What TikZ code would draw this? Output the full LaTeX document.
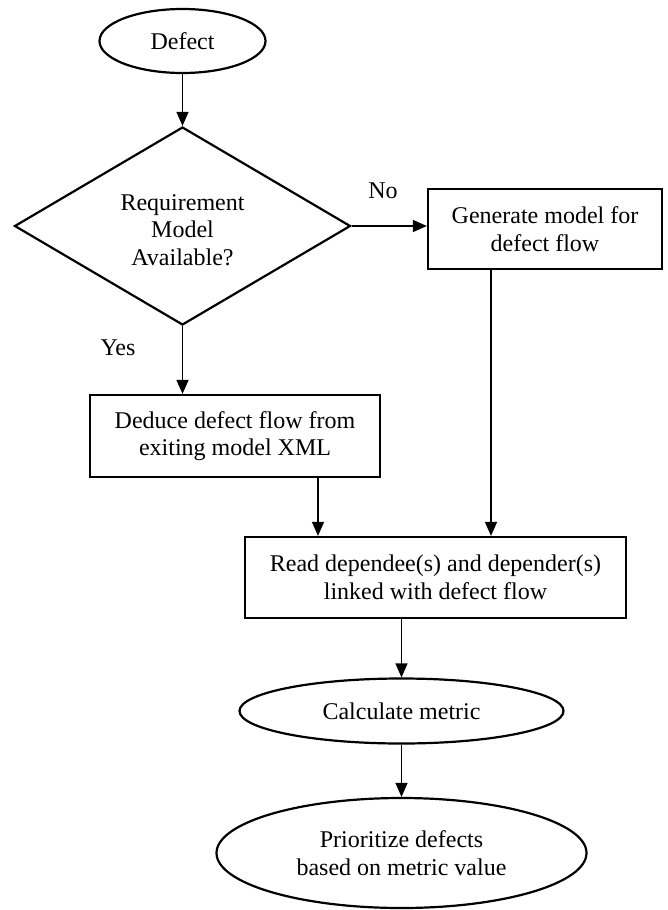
\documentclass[tikz,border=0pt]{standalone}
\usepackage{fontspec}
\setmainfont{Liberation Serif}
\usetikzlibrary{shapes.geometric,arrows.meta}
\tikzset{
  txt/.style={font=\fontsize{24}{27.5}\selectfont, align=center, inner sep=0pt},
  boxnode/.style={txt, draw, line width=2.2pt, rectangle},
  ovalnode/.style={txt, draw, line width=2.2pt, ellipse},
  decnode/.style={txt, draw, line width=2.2pt, diamond},
  arr/.style={line width=1.3pt, -{Triangle[length=14pt,width=12pt]}},
  lbl/.style={font=\fontsize{24}{27.5}\selectfont, inner sep=0pt}
}
\begin{document}
\begin{tikzpicture}[x=1pt,y=-1pt]
\useasboundingbox (0,0) rectangle (668,910);
\node[ovalnode, minimum width=166pt, minimum height=64pt] (defect) at (182.5,41) {Defect};
\node[decnode, minimum width=336pt, minimum height=198pt,
  label={[txt, yshift=-4pt]center:{Requirement\\Model\\Available?}}] (dec) at (182.5,226) {};
\node[boxnode, minimum width=234pt, minimum height=80pt] (gen) at (545,229) {Generate model for\\defect flow};
\node[boxnode, minimum width=290pt, minimum height=82pt] (ded) at (235,436) {Deduce defect flow from\\exiting model XML};
\node[boxnode, minimum width=381pt, minimum height=81pt] (read) at (435.5,577.5) {Read dependee(s) and depender(s)\\linked with defect flow};
\node[ovalnode, minimum width=324pt, minimum height=65pt] (calc) at (401.5,711) {\raisebox{-2pt}{Calculate metric}};
\node[ovalnode, minimum width=370pt, minimum height=110pt] (prio) at (401.5,853) {Prioritize defects\\based on metric value};
\node[lbl] (no) at (383,191) {No};
\node[lbl] (yes) at (118,348) {Yes};
\draw[arr] (defect.south) -- (dec.north);
\draw[arr] (dec.east) -- (dec.east -| gen.west);
\draw[arr] (dec.south) -- (dec.south |- ded.north);
\draw[arr] ([xshift=83pt]ded.south) -- ([xshift=83pt]ded.south |- read.north);
\draw[arr] ([xshift=-54pt]gen.south) -- ([xshift=-54pt]gen.south |- read.north);
\draw[arr] (calc.north |- read.south) -- (calc.north);
\draw[arr] (calc.south) -- (prio.north);
\end{tikzpicture}
\end{document}
